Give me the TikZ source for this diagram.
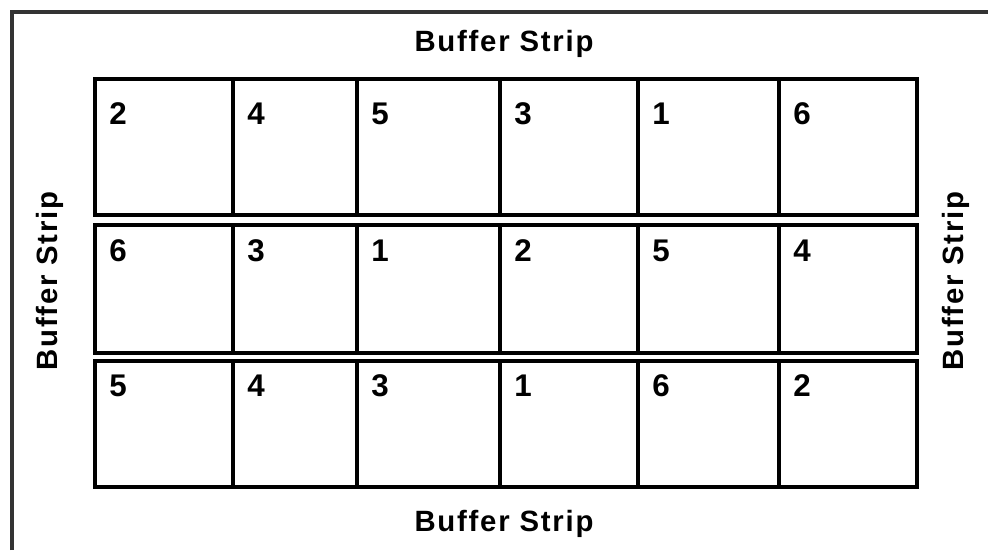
\documentclass[tikz,border=0pt]{standalone}
\usepackage{fontspec}
\setmainfont{Liberation Sans}
\newfontfamily\stripfont[LetterSpace=6]{Liberation Sans}
\usetikzlibrary{positioning}

\tikzset{
  plotline/.style={line width=2.3pt, black},
  plotnum/.style={inner sep=0pt, anchor=base west, font=\fontsize{23.5}{27}\selectfont\bfseries},
  striplabel/.style={inner sep=0pt, anchor=base, font=\fontsize{22}{26}\stripfont\bfseries}
}

\begin{document}
\begin{tikzpicture}[x=0.75pt, y=-0.75pt]
\useasboundingbox (0,0) rectangle (988,550);
% Draw outer frame
\draw[line width=2.3pt, black!80] (12,550) -- (12,12) -- (988,12);
% Draw plots, row by row
\foreach \top/\bot/\base/\nums [count=\r] in {79/215/124/{2,4,5,3,1,6},
                                             225/353/261/{6,3,1,2,5,4},
                                             361/487/396/{5,4,3,1,6,2}} {
  \draw[plotline] (95,\top) rectangle (917,\bot);
  \foreach \x in {233,357,500,638,779}
    \draw[plotline] (\x,\top) -- (\x,\bot);
  \foreach \n [count=\c] in \nums {
    \pgfmathsetmacro{\xl}{{95,233,357,500,638,779}[\c-1]+14}
    \node[plotnum] (p\r-\c) at (\xl,\base) {\n};
  }
}
% Buffer strips
\node[striplabel] (top) at (504,51) {Buffer Strip};
\node[striplabel] (bottom) at (504,531) {Buffer Strip};
\node[striplabel, rotate=90] (left) at (57,281) {Buffer Strip};
\node[striplabel, rotate=90] (right) at (963,281) {Buffer Strip};
\end{tikzpicture}
\end{document}
